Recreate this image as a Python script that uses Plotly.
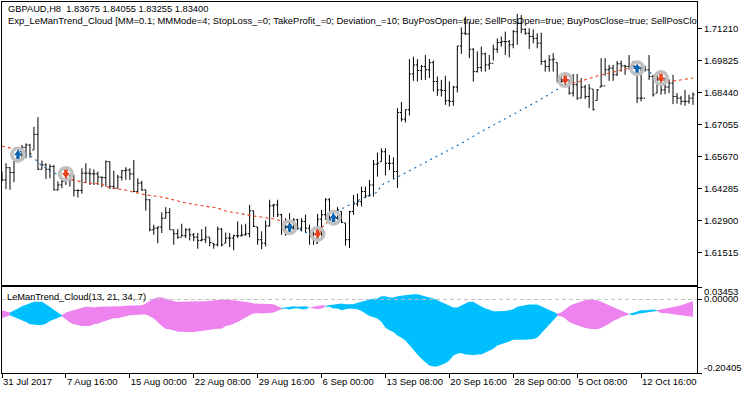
import plotly.graph_objects as go

BAR_INDEX = list(range(174))
HIGH = [1.6502,1.6538,1.6521,1.6550,1.6603,1.6617,1.6624,1.6622,1.6696,1.6738,1.6550,1.6538,1.6534,1.6531,1.6459,1.6466,1.6480,1.6488,1.6488,1.6426,
1.6516,1.6538,1.6516,1.6512,1.6502,1.6480,1.6550,1.6545,1.6506,1.6488,1.6509,1.6521,1.6516,1.6552,1.6473,1.6462,1.6423,1.6382,1.6272,1.6264,
1.6326,1.6348,1.6344,1.6250,1.6254,1.6276,1.6257,1.6257,1.6236,1.6236,1.6253,1.6264,1.6217,1.6192,1.6264,1.6257,1.6238,1.6236,1.6228,1.6286,
1.6272,1.6276,1.6358,1.6332,1.6262,1.6243,1.6290,1.6380,1.6362,1.6380,1.6319,1.6300,1.6322,1.6300,1.6298,1.6300,1.6315,1.6272,1.6257,1.6319,
1.6336,1.6387,1.6387,1.6336,1.6348,1.6329,1.6279,1.6332,1.6401,1.6406,1.6437,1.6437,1.6466,1.6552,1.6584,1.6603,1.6603,1.6574,1.6564,1.6777,
1.6803,1.6770,1.6989,1.7000,1.6989,1.6964,1.7007,1.6989,1.6983,1.6914,1.6899,1.6917,1.6892,1.6873,1.7046,1.7127,1.7173,1.7151,1.7036,1.7022,
1.7043,1.7017,1.7007,1.7051,1.7079,1.7087,1.7108,1.7072,1.7115,1.7185,1.7180,1.7123,1.7123,1.7118,1.7101,1.7104,1.6986,1.7007,1.7015,1.6974,
1.6921,1.6899,1.6899,1.6925,1.6925,1.6907,1.6878,1.6881,1.6859,1.6859,1.6993,1.6993,1.6964,1.6964,1.6981,1.6983,1.6964,1.7007,1.6981,1.6957,
1.6957,1.6960,1.7007,1.6921,1.6925,1.6899,1.6907,1.6902,1.6921,1.6842,1.6830,1.6856,1.6835,1.6845]
LOW = [1.6459,1.6426,1.6423,1.6456,1.6542,1.6560,1.6560,1.6562,1.6596,1.6509,1.6512,1.6470,1.6473,1.6420,1.6420,1.6430,1.6444,1.6437,1.6394,1.6390,
1.6406,1.6452,1.6444,1.6444,1.6444,1.6434,1.6437,1.6426,1.6426,1.6430,1.6463,1.6466,1.6466,1.6413,1.6413,1.6418,1.6333,1.6243,1.6228,1.6191,
1.6236,1.6300,1.6250,1.6185,1.6211,1.6221,1.6214,1.6204,1.6200,1.6168,1.6200,1.6192,1.6178,1.6168,1.6178,1.6178,1.6192,1.6175,1.6161,1.6214,
1.6221,1.6224,1.6217,1.6262,1.6185,1.6166,1.6178,1.6264,1.6305,1.6305,1.6228,1.6224,1.6236,1.6250,1.6250,1.6243,1.6236,1.6185,1.6185,1.6192,
1.6207,1.6293,1.6279,1.6293,1.6293,1.6279,1.6181,1.6171,1.6315,1.6351,1.6351,1.6387,1.6394,1.6394,1.6480,1.6545,1.6485,1.6509,1.6469,1.6431,
1.6719,1.6715,1.6745,1.6895,1.6892,1.6899,1.6899,1.6907,1.6849,1.6830,1.6827,1.6791,1.6784,1.6787,1.6845,1.7012,1.7094,1.6993,1.6892,1.6931,
1.6935,1.6935,1.6943,1.6983,1.7017,1.7043,1.7007,1.6997,1.7036,1.7051,1.7101,1.7094,1.7033,1.7058,1.7036,1.6964,1.6935,1.6935,1.6935,1.6888,
1.6871,1.6871,1.6835,1.6827,1.6813,1.6820,1.6816,1.6777,1.6767,1.6810,1.6868,1.6917,1.6895,1.6895,1.6917,1.6935,1.6921,1.6943,1.6957,1.6799,
1.6806,1.6935,1.6899,1.6827,1.6842,1.6835,1.6837,1.6842,1.6794,1.6796,1.6791,1.6787,1.6796,1.6791]
CLOSE = [1.6466,1.6519,1.6498,1.6545,1.6574,1.6607,1.6617,1.6578,1.6663,1.6512,1.6531,1.6512,1.6524,1.6423,1.6444,1.6459,1.6466,1.6466,1.6420,1.6420,
1.6495,1.6495,1.6492,1.6492,1.6478,1.6476,1.6545,1.6437,1.6430,1.6478,1.6506,1.6509,1.6492,1.6416,1.6452,1.6423,1.6380,1.6250,1.6257,1.6262,
1.6300,1.6325,1.6250,1.6233,1.6218,1.6224,1.6250,1.6228,1.6218,1.6204,1.6207,1.6218,1.6195,1.6185,1.6253,1.6185,1.6214,1.6214,1.6224,1.6224,
1.6228,1.6233,1.6332,1.6264,1.6207,1.6192,1.6267,1.6354,1.6358,1.6315,1.6257,1.6264,1.6257,1.6293,1.6257,1.6286,1.6257,1.6236,1.6214,1.6296,
1.6315,1.6380,1.6293,1.6300,1.6336,1.6282,1.6207,1.6329,1.6362,1.6372,1.6416,1.6397,1.6444,1.6534,1.6538,1.6588,1.6538,1.6538,1.6502,1.6758,
1.6729,1.6770,1.6925,1.6964,1.6940,1.6957,1.6943,1.6974,1.6892,1.6856,1.6853,1.6809,1.6806,1.6868,1.7046,1.7101,1.7098,1.7032,1.6935,1.6953,
1.7012,1.6964,1.6971,1.7032,1.7061,1.7065,1.7065,1.7051,1.7108,1.7144,1.7118,1.7101,1.7087,1.7079,1.7058,1.6979,1.6957,1.6986,1.6989,1.6899,
1.6892,1.6878,1.6842,1.6878,1.6820,1.6868,1.6827,1.6863,1.6770,1.6856,1.6873,1.6943,1.6950,1.6921,1.6969,1.6960,1.6957,1.6957,1.6960,1.6820,
1.6820,1.6943,1.6914,1.6835,1.6899,1.6856,1.6868,1.6885,1.6827,1.6820,1.6806,1.6806,1.6820,1.6835]
OPEN = [1.6470,1.6466,1.6519,1.6498,1.6545,1.6574,1.6607,1.6617,1.6596,1.6663,1.6512,1.6531,1.6512,1.6524,1.6423,1.6444,1.6459,1.6466,1.6466,1.6420,
1.6420,1.6495,1.6495,1.6492,1.6492,1.6478,1.6476,1.6545,1.6437,1.6430,1.6478,1.6506,1.6509,1.6492,1.6416,1.6452,1.6423,1.6380,1.6250,1.6257,
1.6262,1.6300,1.6325,1.6250,1.6233,1.6218,1.6224,1.6250,1.6228,1.6218,1.6204,1.6207,1.6218,1.6192,1.6185,1.6253,1.6192,1.6214,1.6214,1.6224,
1.6224,1.6228,1.6233,1.6332,1.6262,1.6207,1.6192,1.6267,1.6354,1.6358,1.6315,1.6257,1.6264,1.6257,1.6293,1.6257,1.6286,1.6257,1.6236,1.6192,
1.6296,1.6315,1.6380,1.6293,1.6300,1.6329,1.6279,1.6207,1.6329,1.6362,1.6372,1.6416,1.6397,1.6444,1.6534,1.6545,1.6588,1.6538,1.6538,1.6502,
1.6758,1.6729,1.6770,1.6925,1.6964,1.6940,1.6957,1.6943,1.6974,1.6892,1.6856,1.6853,1.6809,1.6806,1.6868,1.7046,1.7101,1.7098,1.7032,1.6935,
1.6953,1.7012,1.6964,1.6971,1.7032,1.7061,1.7065,1.7065,1.7051,1.7108,1.7144,1.7118,1.7101,1.7087,1.7079,1.7058,1.6979,1.6957,1.6986,1.6974,
1.6899,1.6892,1.6878,1.6842,1.6878,1.6820,1.6868,1.6827,1.6859,1.6810,1.6868,1.6873,1.6943,1.6950,1.6921,1.6969,1.6960,1.6957,1.6957,1.6957,
1.6820,1.6820,1.6943,1.6914,1.6842,1.6899,1.6856,1.6868,1.6885,1.6827,1.6820,1.6806,1.6806,1.6820]

RED_K = [0,3,None,16,20,22,25,27,31,33,36,40,42,46,49,54,56,61,63,68,71,72,None,79,80,82,None,140,141,145,149,154,158,None,165,168,173]
RED_P = [1.6613,1.6600,None,1.6474,1.6457,1.6452,1.6448,1.6431,1.6422,1.6413,1.6401,1.6392,1.6383,1.6366,1.6357,1.6344,1.6331,1.6314,1.6310,1.6297,1.6284,1.6275,None,1.6210,1.6258,1.6292,None,1.6868,1.6877,1.6894,1.6916,1.6937,1.6955,None,1.6899,1.6894,1.6907]
BLUE_K = [3,4,8,10,13,16,None,72,74,75,77,79,None,82,83,86,91,94,95,99,103,109,115,120,124,125,130,135,140,None,158,159,162,165]
BLUE_P = [1.6600,1.6595,1.6561,1.6526,1.6496,1.6474,None,1.6275,1.6262,1.6245,1.6232,1.6210,None,1.6292,1.6323,1.6349,1.6392,1.6413,1.6444,1.6478,1.6515,1.6570,1.6624,1.6675,1.6712,1.6721,1.6769,1.6816,1.6868,None,1.6955,1.6959,1.6933,1.6899]

BUY_K = [4,72,83,159]
BUY_P = [1.6576,1.6261,1.6302,1.6950]
BUY_HEAD_P = [1.6580,1.6265,1.6306,1.6954]
BUY_STEM_P = [1.6565,1.6250,1.6291,1.6939]
SELL_K = [16,79,141,165]
SELL_P = [1.6492,1.6232,1.6899,1.6907]
SELL_HEAD_P = [1.6488,1.6228,1.6895,1.6903]
SELL_STEM_P = [1.6503,1.6243,1.6910,1.6918]

CLOUD_UP = [-.0299,-.0327,-.0364,-.0318,-.0253,-.0187,-.0141,-.0094,-.0067,-.0067,-.0067,-.0132,-.0206,-.0271,-.0364,-.0439,-.0364,-.0327,-.0299,-.0271,
-.0225,-.0206,-.0206,-.0225,-.0206,-.0206,-.0206,-.0206,-.0206,-.0187,-.0187,-.0178,-.0178,-.0178,-.0178,-.0160,-.0113,-.0039,.0027,.0054,
.0054,.0027,-.0020,-.0048,-.0067,-.0067,-.0067,-.0067,-.0067,-.0057,-.0048,-.0048,-.0039,-.0020,-.0020,-.0001,-.0001,-.0001,-.0020,-.0039,
-.0048,-.0067,-.0085,-.0113,-.0113,-.0113,-.0113,-.0113,-.0132,-.0187,-.0234,-.0225,-.0206,-.0187,-.0206,-.0187,-.0187,-.0225,-.0206,-.0178,
-.0160,-.0178,-.0160,-.0141,-.0113,-.0113,-.0132,-.0132,-.0132,-.0094,-.0067,-.0020,.0008,.0027,.0027,.0092,.0092,.0054,.0054,.0092,
.0101,.0119,.0138,.0147,.0147,.0119,.0092,.0054,.0027,-.0020,-.0067,-.0113,-.0178,-.0225,-.0225,-.0160,-.0113,-.0067,-.0067,-.0132,
-.0187,-.0253,-.0280,-.0327,-.0327,-.0327,-.0318,-.0299,-.0271,-.0206,-.0178,-.0160,-.0141,-.0141,-.0141,-.0187,-.0234,-.0299,-.0346,-.0392,
-.0364,-.0280,-.0187,-.0132,-.0094,-.0048,-.0020,-.0001,-.0001,-.0020,-.0067,-.0113,-.0160,-.0206,-.0253,-.0299,-.0364,-.0401,-.0364,-.0327,
-.0299,-.0299,-.0280,-.0280,-.0299,-.0280,-.0253,-.0234,-.0206,-.0187,-.0160,-.0113,-.0085,-.0048]
CLOUD_DN = [-.0513,-.0485,-.0439,-.0466,-.0532,-.0578,-.0625,-.0690,-.0708,-.0708,-.0708,-.0671,-.0597,-.0550,-.0504,-.0466,-.0559,-.0643,-.0690,-.0708,
-.0736,-.0736,-.0736,-.0690,-.0671,-.0625,-.0597,-.0550,-.0522,-.0522,-.0504,-.0466,-.0439,-.0439,-.0420,-.0420,-.0420,-.0466,-.0532,-.0625,
-.0736,-.0811,-.0838,-.0857,-.0894,-.0904,-.0904,-.0904,-.0904,-.0885,-.0876,-.0857,-.0838,-.0829,-.0811,-.0811,-.0736,-.0718,-.0671,-.0625,
-.0559,-.0504,-.0439,-.0392,-.0373,-.0392,-.0392,-.0373,-.0364,-.0318,-.0271,-.0253,-.0280,-.0253,-.0243,-.0271,-.0271,-.0225,-.0253,-.0271,
-.0253,-.0206,-.0206,-.0253,-.0253,-.0299,-.0271,-.0253,-.0253,-.0271,-.0318,-.0392,-.0457,-.0504,-.0532,-.0625,-.0783,-.0857,-.0904,-.0997,
-.1062,-.1136,-.1276,-.1387,-.1527,-.1648,-.1741,-.1834,-.1861,-.1861,-.1806,-.1768,-.1694,-.1555,-.1508,-.1489,-.1527,-.1536,-.1545,-.1527,
-.1527,-.1480,-.1415,-.1369,-.1276,-.1257,-.1201,-.1164,-.1117,-.1117,-.1117,-.1117,-.1117,-.1099,-.1062,-.0950,-.0838,-.0718,-.0578,-.0457,
-.0466,-.0532,-.0625,-.0671,-.0718,-.0764,-.0792,-.0811,-.0829,-.0829,-.0792,-.0736,-.0671,-.0597,-.0550,-.0485,-.0448,-.0420,-.0439,-.0401,
-.0373,-.0355,-.0355,-.0336,-.0318,-.0373,-.0383,-.0392,-.0411,-.0420,-.0439,-.0457,-.0466,-.0485]
CLOUD_RUNS = [(0,3,"pink"),(2,15,"blue"),(15,70,"pink"),(70,77,"blue"),(77,81,"pink"),(81,139,"blue"),(139,157,"pink"),(157,164,"blue"),(164,173,"pink")]

TICK_K = [0,16,32,48,64,80,96,112,128,144,160]
TICK_TEXT = ["31 Jul 2017","7 Aug 16:00","15 Aug 00:00","22 Aug 08:00","29 Aug 16:00","6 Sep 00:00","13 Sep 08:00","20 Sep 16:00","28 Sep 00:00","5 Oct 08:00","12 Oct 16:00"]
PRICE_TICKS = [1.71210,1.69825,1.68440,1.67055,1.65670,1.64285,1.62900,1.61515]
HEADER_1 = "GBPAUD,H8  1.83675 1.84055 1.83255 1.83400"
HEADER_2 = "Exp_LeManTrend_Cloud [MM=0.1; MMMode=4; StopLoss_=0; TakeProfit_=0; Deviation_=10; BuyPosOpen=true; SellPosOpen=true; BuyPosClose=true; SellPosClo"
SUB_TITLE = "LeManTrend_Cloud(13, 21, 34, 7)"

for a in (HIGH, LOW, CLOSE, OPEN, CLOUD_UP, CLOUD_DN):
    assert len(a) == 174, len(a)

FONT = "Liberation Sans"
PINK, SKY, RED, BLUE, GRAY = "#EE82EE", "#00BFFF", "#E8401C", "#0A64AE", "#C0C0C0"
W, H = 750, 394
L, R, T, B = 2, 53, 2, 21
PW, PH = W - L - R, H - T - B

fig = go.Figure()
fig.add_trace(go.Ohlc(x=BAR_INDEX, open=OPEN, high=HIGH, low=LOW, close=CLOSE, tickwidth=0.4,
                      increasing=dict(line=dict(color="black", width=1)),
                      decreasing=dict(line=dict(color="black", width=1)),
                      xaxis="x2", yaxis="y", showlegend=False))
fig.add_trace(go.Scatter(x=RED_K, y=RED_P, mode="lines", xaxis="x2", yaxis="y",
                         line=dict(color=RED, width=1.1, dash="3px,3px")))
fig.add_trace(go.Scatter(x=BLUE_K, y=BLUE_P, mode="lines", xaxis="x2", yaxis="y",
                         line=dict(color=BLUE, width=1.1, dash="2px,4px")))
for ks, ps, hs, st, col, sym in ((BUY_K, BUY_P, BUY_HEAD_P, BUY_STEM_P, BLUE, "triangle-up"),
                                 (SELL_K, SELL_P, SELL_HEAD_P, SELL_STEM_P, RED, "triangle-down")):
    fig.add_trace(go.Scatter(x=ks, y=ps, mode="markers", xaxis="x2", yaxis="y",
                             marker=dict(symbol="circle-open", size=12.5, color=GRAY, line=dict(color=GRAY, width=3.5))))
    fig.add_trace(go.Scatter(x=ks, y=hs, mode="markers", xaxis="x2", yaxis="y",
                             marker=dict(symbol=sym, size=7, color=col, line=dict(width=0))))
    fig.add_trace(go.Scatter(x=ks, y=st, mode="markers", xaxis="x2", yaxis="y",
                             marker=dict(symbol="square", size=3.5, color=col, line=dict(width=0))))

for a, b, c in CLOUD_RUNS:
    xs = BAR_INDEX[a:b + 1]
    fig.add_trace(go.Scatter(x=xs + xs[::-1], y=CLOUD_UP[a:b + 1] + CLOUD_DN[a:b + 1][::-1],
                             mode="lines", fill="toself", line=dict(width=0),
                             fillcolor=PINK if c == "pink" else SKY, xaxis="x", yaxis="y2"))
fig.add_trace(go.Scatter(x=[0, 174], y=[0, 0], mode="lines", xaxis="x", yaxis="y2",
                         line=dict(color=GRAY, width=1, dash="4px,3px")))

def ann(text, px, py, size=9.5):
    fig.add_annotation(text=text, xref="paper", yref="paper", x=(px - L) / PW, y=(H - B - py) / PH,
                       xanchor="left", yanchor="middle", showarrow=False,
                       font=dict(family=FONT, size=size, color="black"))

ann(HEADER_1, 6, 9, 9.3)
ann(HEADER_2, 6, 20.5, 9.45)
ann(SUB_TITLE, 5, 297, 9.25)
ann("0.03453", 702, 291.5)
ann("0.00000", 702, 298.5)
ann("-0.20405", 702, 367.5)

axis_common = dict(showline=True, linecolor="black", linewidth=1, mirror=True, showgrid=False, zeroline=False,
                   ticks="outside", tickcolor="black", ticklen=4, tickwidth=1,
                   tickfont=dict(family=FONT, size=9.5, color="black"))
fig.update_layout(
    width=W, height=H, margin=dict(l=L, r=R, t=T, b=B), paper_bgcolor="white", plot_bgcolor="white",
    showlegend=False, hovermode=False,
    xaxis=dict(axis_common, domain=[0, 1], range=[0, 174], anchor="y2", tickmode="array",
               tickvals=TICK_K, ticktext=TICK_TEXT, ticklabelposition="outside right", tickangle=0),
    xaxis2=dict(axis_common, domain=[0, 1], range=[0, 174], anchor="y", ticks="", showticklabels=False,
                rangeslider=dict(visible=False)),
    yaxis=dict(axis_common, domain=[88.5 / PH, 1], range=[1.6013, 1.72364], side="right", anchor="x2",
               tickmode="array", tickvals=PRICE_TICKS, ticktext=[f"{v:.5f}" for v in PRICE_TICKS]),
    yaxis2=dict(axis_common, domain=[0, 86 / PH], range=[-0.20405, 0.03453], side="right", anchor="x",
                tickmode="array", tickvals=[-0.20405, 0, 0.03453], showticklabels=False),
)
fig.write_html("out.html", config={"displayModeBar": False},
               post_script="document.body.style.margin='0';document.body.style.overflow='hidden';")
